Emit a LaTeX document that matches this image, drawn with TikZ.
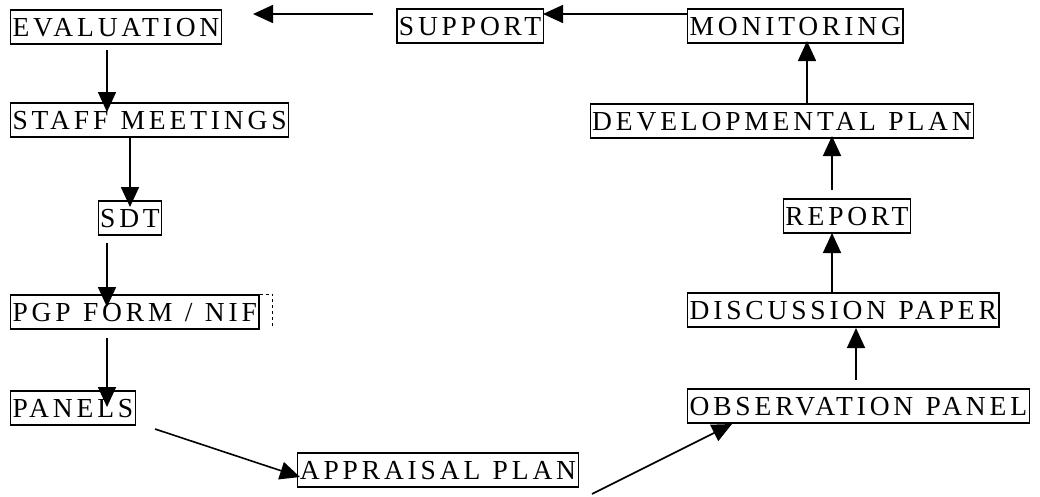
\documentclass[tikz,border=0pt]{standalone}
\usepackage{fontspec}
\setmainfont{Liberation Serif}[LetterSpace=14,WordSpace=1.15]
\usetikzlibrary{arrows.meta}
\begin{document}
\begin{tikzpicture}[x=1pt,y=-1pt,
  box/.style={draw,line width=1.2pt,inner xsep=2pt,inner ysep=7.5pt,text height=19pt,text depth=0pt,font=\fontsize{27.5}{32}\selectfont},
  flow/.style={line width=1.6pt,-{Triangle[length=20pt,width=18pt]}}]
\useasboundingbox (0,0) rectangle (1040,496);
% nodes
\node[box,anchor=west] (eval) at (10,27) {EVALUATION};
\node[box] (sup) at (470,26) {SUPPORT};
\node[box,anchor=west] (mon) at (687,26) {MONITORING};
\node[box,anchor=west] (staff) at (10,120) {STAFF MEETINGS};
\node[box] (dev) at (782,121) {DEVELOPMENTAL PLAN};
\node[box] (sdt) at (130,218) {SDT};
\node[box] (rep) at (847,216) {REPORT};
\node[box,anchor=west] (pgp) at (10,312) {PGP FORM / NIF};
\node[box,anchor=west] (disc) at (687,310) {DISCUSSION PAPER};
\node[box,anchor=west] (pan) at (10,408) {PANELS};
\node[box,anchor=west] (obs) at (687,406) {OBSERVATION PANEL};
\node[box] (app) at (438,470) {APPRAISAL PLAN};
\draw[dashed,line width=0.8pt] (pgp.north east) -- ++(13,0) -- ++(0,34);
% free ends
\coordinate (c1) at (687,14);   \coordinate (c1t) at (543,14);
\coordinate (c2) at (373,14);   \coordinate (c2t) at (253,14);
\coordinate (c3) at (107,50);   \coordinate (c3t) at (107,112);
\coordinate (c4) at (130,136);  \coordinate (c4t) at (130,207);
\coordinate (c5) at (107,243);  \coordinate (c5t) at (107,307);
\coordinate (c6) at (107,338);  \coordinate (c6t) at (107,407);
\coordinate (c7) at (155,429);  \coordinate (c7t) at (300,477);
\coordinate (c8) at (592,494);  \coordinate (c8t) at (732,424);
\coordinate (c9) at (856,380);  \coordinate (c9t) at (856,328);
\coordinate (c10) at (832,293); \coordinate (c10t) at (832,233);
\coordinate (c11) at (832,190); \coordinate (c11t) at (832,136);
\coordinate (c12) at (807,104); \coordinate (c12t) at (807,41);
% connectors
\draw[flow] (c1) -- (c1t);
\draw[flow] (c2) -- (c2t);
\draw[flow] (c3) -- (c3t);
\draw[flow] (c4) -- (c4t);
\draw[flow] (c5) -- (c5t);
\draw[flow] (c6) -- (c6t);
\draw[flow] (c7) -- (c7t);
\draw[flow] (c8) -- (c8t);
\draw[flow] (c9) -- (c9t);
\draw[flow] (c10) -- (c10t);
\draw[flow] (c11) -- (c11t);
\draw[flow] (c12) -- (c12t);
\end{tikzpicture}
\end{document}
